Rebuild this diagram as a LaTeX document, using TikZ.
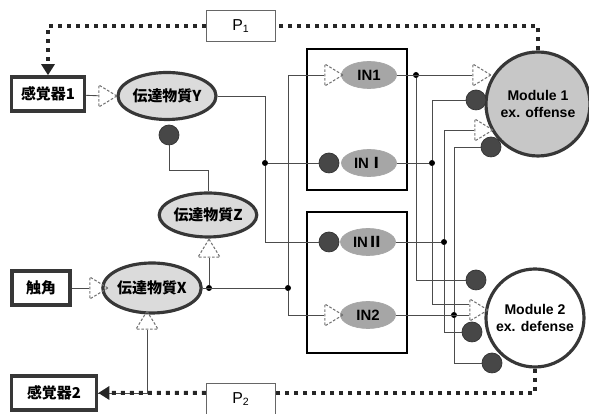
\documentclass[tikz,border=0pt]{standalone}
\usepackage{fontspec}
\setmainfont{Liberation Sans}
\newfontfamily\jpfont{Noto Sans CJK JP}
\usetikzlibrary{arrows.meta, positioning, shapes.geometric}
\definecolor{inkgray}{RGB}{55,55,55}

\begin{document}
\begin{tikzpicture}[
  x=0.2mm, y=-0.2mm,
  every node/.style={font=\fontsize{8.5}{10}\selectfont\bfseries},
  sensor/.style={draw=inkgray, line width=2pt, fill=white, minimum height=6.8mm, inner sep=2pt, font=\jpfont\fontsize{8.5}{10}\selectfont\bfseries},
  trans/.style={ellipse, draw=inkgray, line width=1.8pt, fill=black!14, inner sep=0pt, font=\jpfont\fontsize{8.5}{10}\selectfont\bfseries},
  pbox/.style={draw=black!60, line width=0.6pt, fill=white, minimum width=13.8mm, minimum height=6.2mm, font=\fontsize{9}{10}\selectfont},
  inbox/.style={draw=black, line width=1.2pt, minimum width=20mm, minimum height=28.2mm},
  inell/.style={ellipse, draw=black!35, fill=black!35, minimum width=11mm, minimum height=5.4mm, inner sep=0pt},
  module/.style={circle, draw=inkgray, line width=1.8pt, align=center, inner sep=0pt, font=\fontsize{8}{9.5}\selectfont\bfseries},
  exc/.style={isosceles triangle, isosceles triangle stretches, draw=black!55, dash pattern=on 1.5pt off 1pt, line width=0.6pt, minimum width=4.4mm, minimum height=3.6mm, inner sep=0pt},
  excup/.style={exc, shape border rotate=90},
  inh/.style={circle, fill=black!72, draw=black!80, minimum size=4mm, inner sep=0pt},
  jn/.style={circle, fill=black, minimum size=1.2mm, inner sep=0pt},
  wire/.style={draw=black!70, line width=0.5pt},
  fb/.style={draw=black!85, line width=0.8mm, dash pattern=on 0.8mm off 1mm}
]
\useasboundingbox (0,0) rectangle (589,414);

% sensors, feedback boxes, transmitters
\node[sensor, minimum width=14.6mm] (sens1) at (48,94) {感覚器1};
\node[sensor, minimum width=11.6mm] (antenna) at (41,288) {触角};
\node[sensor, minimum width=17mm] (sens2) at (54,393) {感覚器2};
\node[pbox] (p1) at (241,26) {P\textsubscript{1}};
\node[pbox] (p2) at (241,399) {P\textsubscript{2}};
\node[trans, minimum width=19.6mm, minimum height=9.4mm] (tY) at (167,96) {伝達物質Y};
\node[trans, minimum width=18mm, minimum height=8.8mm] (tZ) at (208,215) {伝達物質Z};
\node[trans, minimum width=17.8mm, minimum height=10mm] (tX) at (152,288) {伝達物質X};

% interneuron boxes
\node[inbox] (boxA) at (357,119.5) {};
\node[inbox] (boxB) at (357,282.5) {};
\node[inell] (in1) at (369,75) {IN1};
\node[inell] (inI) at (369,163) {IN{\jpfont Ⅰ}};
\node[inell] (inII) at (368,242) {IN{\jpfont Ⅱ}};
\node[inell] (in2) at (368,315) {IN2};

% modules
\node[module, minimum size=20.8mm, fill=black!22] (m1) at (538,104) {Module 1\\ex. offense};
\node[module, minimum size=19.6mm, fill=white] (m2) at (535,318) {Module 2\\ex. defense};

% synapses
\node[exc] (eY) at (105,96) {};
\node[exc] (eXa) at (96,288) {};
\node[excup] (eX) at (147,323) {};
\node[excup] (eZ) at (209,251) {};
\node[exc] (e1) at (331,75) {};
\node[exc] (e2) at (331,315) {};
\node[exc] (eM1a) at (479,75) {};
\node[exc] (eM1b) at (481,130) {};
\node[exc] (eM2) at (476,310) {};
\node[inh] (dY) at (169,135) {};
\node[inh] (dI) at (329,163) {};
\node[inh] (dII) at (329,242) {};
\node[inh] (dM1a) at (476,100) {};
\node[inh] (dM1b) at (491,147) {};
\node[inh] (dM2a) at (476,280) {};
\node[inh] (dM2b) at (472,332) {};
\node[inh] (dM2c) at (492,363) {};

% junctions
\node[jn] (j1) at (416,75) {};
\node[jn] (j2) at (432,163) {};
\node[jn] (j3) at (444,242) {};
\node[jn] (j4) at (454,315) {};
\node[jn] (j5) at (265,163) {};
\node[jn] (j6) at (209,288) {};
\node[jn] (j7) at (288,288) {};

% wiring, left
\draw[wire] (sens1) -- (eY);
\draw[wire] (antenna) -- (eXa);
\draw[wire] (sens2) -| (eX);
\draw[wire] (tY) -| (j5) |- (dII);
\draw[wire] (j5) -- (dI);
\draw[wire] (dY) -- ++(0,35) -| (tZ);
\draw[wire] (tX) -- (j7);
\draw[wire] (j6) -- (eZ);
\draw[wire] (e1) -| (j7) |- (e2);

% wiring, right
\draw[wire] (in1) -- (eM1a);
\draw[wire] (j1) |- (dM2a);
\draw[wire] (inI) -- (j2);
\draw[wire] (dM1a) -| (j2) |- ([yshift=1.2mm]eM2.west);
\draw[wire] (inII) -- (j3);
\draw[wire] (eM1b) -| (j3) |- (dM2b);
\draw[wire] (in2) -- (in2 -| eM2.west);
\draw[wire] (dM1b) -| (j4) |- (dM2c);

% feedback
\draw[fb] (m1) |- (p1);
\draw[fb, -{Triangle[length=2.2mm, width=2.6mm]}] (p1) -| (sens1);
\draw[fb] (m2) |- ([yshift=1.2mm]p2.east);
\draw[fb, -{Triangle[length=2.2mm, width=2.6mm]}] ([yshift=1.2mm]p2.west) -- (sens2);

\end{tikzpicture}
\end{document}
